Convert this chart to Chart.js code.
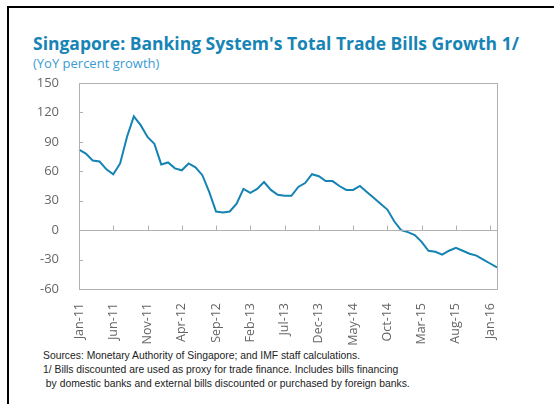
<!DOCTYPE html>
<html>
<head>
<meta charset="utf-8">
<script src="https://cdn.jsdelivr.net/npm/chart.js@4"></script>
<style>
  body { margin: 0; background: #fff; }
  #frame { position: absolute; left: 7px; top: 6px; width: 600px; height: 500px;
           border-top: 2px solid #000; border-left: 2px solid #000; }
  #title { position: absolute; left: 33px; top: 31px; font: bold 17.5px "Open Sans", sans-serif;
           color: #1784b6; white-space: nowrap; }
  #subtitle { position: absolute; left: 33px; top: 54px; font: 13px "Open Sans", sans-serif;
              color: #3a9bd2; white-space: nowrap; }
  #notes { position: absolute; left: 43px; top: 348px; font: 11px "Liberation Sans", sans-serif;
           color: #222; line-height: 14px; white-space: nowrap;
           transform: scaleX(0.94); transform-origin: left top; }
  #wrap { position: absolute; left: 0; top: 0; width: 554px; height: 404px; }
</style>
</head>
<body>
<div id="frame"></div>
<div id="title">Singapore: Banking System's Total Trade Bills Growth 1/</div>
<div id="subtitle">(YoY percent growth)</div>
<div id="notes">Sources: Monetary Authority of Singapore; and IMF staff calculations.<br>
1/ Bills discounted are used as proxy for trade finance. Includes bills financing<br>
&nbsp;by domestic banks and external bills discounted or purchased by foreign banks.</div>
<div id="wrap"><canvas id="myChart"></canvas></div>
<script>
// Monate Jan-11 bis Feb-16
const months = [
  'Jan-11','Feb-11','Mar-11','Apr-11','May-11','Jun-11','Jul-11','Aug-11','Sep-11','Oct-11','Nov-11','Dec-11',
  'Jan-12','Feb-12','Mar-12','Apr-12','May-12','Jun-12','Jul-12','Aug-12','Sep-12','Oct-12','Nov-12','Dec-12',
  'Jan-13','Feb-13','Mar-13','Apr-13','May-13','Jun-13','Jul-13','Aug-13','Sep-13','Oct-13','Nov-13','Dec-13',
  'Jan-14','Feb-14','Mar-14','Apr-14','May-14','Jun-14','Jul-14','Aug-14','Sep-14','Oct-14','Nov-14','Dec-14',
  'Jan-15','Feb-15','Mar-15','Apr-15','May-15','Jun-15','Jul-15','Aug-15','Sep-15','Oct-15','Nov-15','Dec-15',
  'Jan-16','Feb-16'
];

// YoY Wachstum in Prozent
const growth = [
  82, 78, 71, 70, 62, 57, 68, 95, 116, 107, 95, 88,
  67, 69, 63, 61, 68, 64, 56, 39, 19, 18, 19, 27,
  42, 38, 42, 49, 41, 36, 35, 35, 44, 48, 57, 55,
  50, 50, 45, 41, 41, 45, 39, 33, 27, 21, 9, 0,
  -2, -5, -12, -21, -22, -25, -21, -18, -21, -24, -26, -30,
  -34, -38
];

// nur diese Labels werden an der x-Achse gezeigt
const tickLabels = ['Jan-11','Jun-11','Nov-11','Apr-12','Sep-12','Feb-13','Jul-13',
                    'Dec-13','May-14','Oct-14','Mar-15','Aug-15','Jan-16'];
const yTicks = [-60, -30, 0, 30, 60, 90, 120, 150];

const axisColor = '#b0b0b0';

// Rahmen, Nulllinie und kleine Ticks nach innen
const framePlugin = {
  id: 'frame',
  afterDatasetsDraw(chart) {
    const { ctx, chartArea: a, scales } = chart;
    ctx.save();
    ctx.strokeStyle = axisColor;
    ctx.lineWidth = 1;
    ctx.strokeRect(a.left + 0.5, a.top + 0.5, a.right - a.left, a.bottom - a.top);
    const y0 = Math.round(scales.y.getPixelForValue(0)) + 0.5;
    ctx.beginPath();
    ctx.moveTo(a.left, y0);
    ctx.lineTo(a.right, y0);
    months.forEach((m, i) => {
      if (tickLabels.includes(m) && i > 0) {
        const x = Math.round(scales.x.getPixelForValue(i)) + 0.5;
        ctx.moveTo(x, y0);
        ctx.lineTo(x, y0 - 5);
      }
    });
    yTicks.forEach((v) => {
      const y = Math.round(scales.y.getPixelForValue(v)) + 0.5;
      ctx.moveTo(a.left, y);
      ctx.lineTo(a.left + 4, y);
    });
    ctx.stroke();
    ctx.restore();
  }
};

const canvas = document.getElementById('myChart');
const myChart = new Chart(canvas, {
  type: 'line',
  data: {
    labels: months,
    datasets: [{
      data: growth,
      borderColor: '#1583b3',
      borderWidth: 2,
      pointRadius: 0,
      tension: 0,
      clip: false
    }]
  },
  options: {
    responsive: true,
    maintainAspectRatio: false,
    animation: false,
    layout: { padding: { left: 20, top: 83, right: 57, bottom: 55 } },
    plugins: { legend: { display: false }, tooltip: { enabled: false } },
    scales: {
      x: {
        grid: { display: false },
        border: { display: false },
        afterFit(scale) { scale.height = 60; },
        ticks: {
          autoSkip: false,
          maxRotation: 90,
          minRotation: 90,
          padding: 6,
          color: '#666',
          font: { family: 'Open Sans', size: 12.5 },
          callback(value, index) {
            return tickLabels.includes(months[index]) ? months[index] : '';
          }
        }
      },
      y: {
        min: -60,
        max: 150,
        afterFit(scale) { scale.width = 59; },
        afterBuildTicks(scale) { scale.ticks = yTicks.map((v) => ({ value: v })); },
        grid: { display: false },
        border: { display: false },
        ticks: {
          padding: 12,
          color: '#666',
          font: { family: 'Open Sans', size: 13 }
        }
      }
    }
  },
  plugins: [framePlugin]
});
</script>
</body>
</html>
